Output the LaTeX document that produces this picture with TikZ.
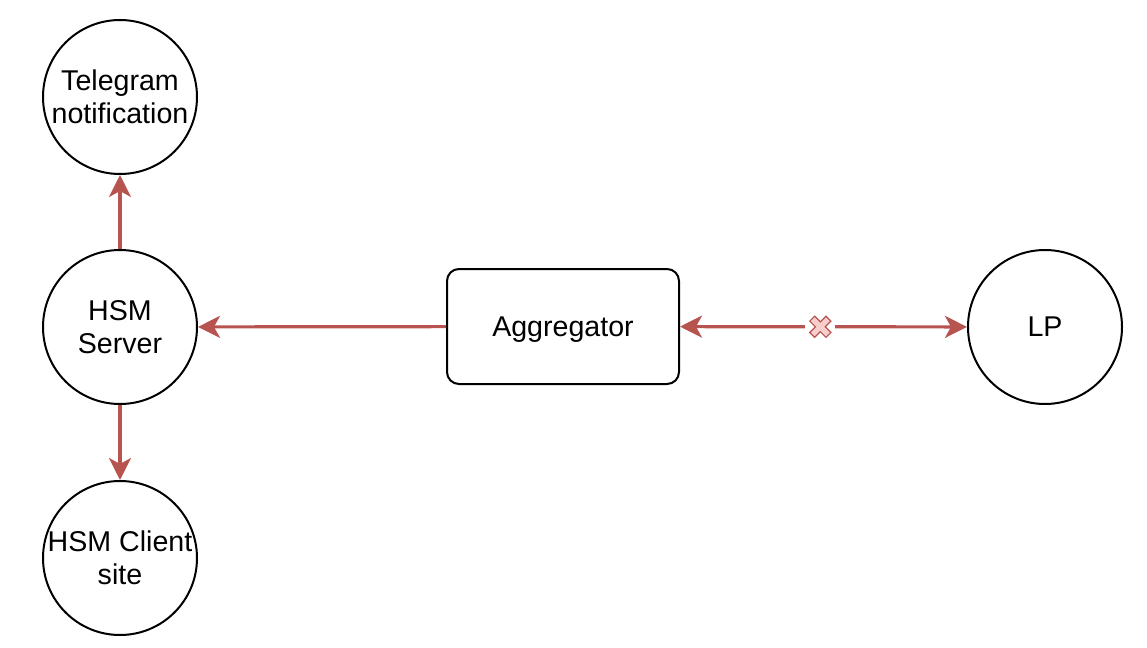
\documentclass[tikz,border=0pt]{standalone}
\usepackage{fontspec}
\setmainfont{Liberation Sans}
\usetikzlibrary{arrows.meta}
\definecolor{linkred}{HTML}{B85450}
\definecolor{cutpink}{HTML}{F8CECC}

\begin{document}
\begin{tikzpicture}[x=0.5pt,y=-0.5pt,
  every node/.style={font=\fontsize{14.3}{16.5}\selectfont,align=center},
  blob/.style={draw,circle,line width=1pt,minimum size=77pt,inner sep=-4pt},
  box/.style={draw,rounded corners=6pt,line width=1pt,minimum width=116pt,minimum height=57.5pt,text depth=0pt},
  hd/.tip={Stealth[length=11pt,width=11pt,inset=3pt]},
  link/.style={draw=linkred,line width=1.6pt,-hd}]
  \useasboundingbox (0,0) rectangle (1147,648);
  \node[blob] (tg) at (120,97) {Telegram\\notification};
  \node[blob] (srv) at (120,327) {HSM\\Server};
  \node[blob] (cli) at (120,558) {HSM Client\\site};
  \node[box] (agg) at (563,326.5) {Aggregator};
  \node[blob] (lp) at (1045,327) {LP};
  \draw[link] (srv) -- (tg);
  \draw[link] (srv) -- (cli);
  \draw[link] (agg) -- (srv);
  \draw[link,hd-hd] (agg) -- (lp) node[pos=0.489,fill=white,inner sep=0pt,minimum width=15pt,minimum height=12pt] (cut) {};
  % the cross on the link
  \begin{scope}[shift={(cut)},rotate=45]
    \def\w{3.5} \def\l{11.5}
    \filldraw[draw=linkred,fill=cutpink,line width=0.6pt]
      (-\w,-\l) -- (\w,-\l) -- (\w,-\w) -- (\l,-\w) -- (\l,\w) -- (\w,\w)
      -- (\w,\l) -- (-\w,\l) -- (-\w,\w) -- (-\l,\w) -- (-\l,-\w) -- (-\w,-\w) -- cycle;
  \end{scope}
\end{tikzpicture}
\end{document}
